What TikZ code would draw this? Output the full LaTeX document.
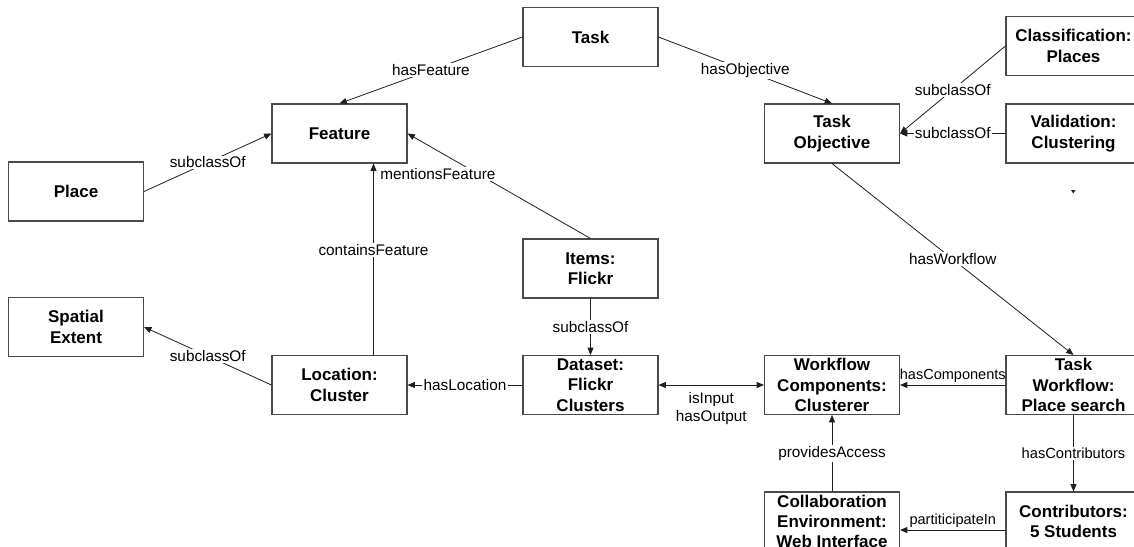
\documentclass[tikz,border=0pt]{standalone}
\usepackage{fontspec}
\setmainfont{Liberation Sans}
\usetikzlibrary{arrows.meta}
\definecolor{boxgray}{HTML}{4A4A4A}
\definecolor{linegray}{HTML}{1E1E1E}
\begin{document}
\begin{tikzpicture}[x=0.75pt,y=-0.75pt,
  box/.style={draw=boxgray, line width=0.8pt, minimum width=101.25pt, minimum height=44.25pt,
    inner sep=0pt, align=center, font=\bfseries\fontsize{12.75}{15.3}\selectfont},
  lbl/.style={fill=white, inner sep=1pt, font=\fontsize{11.5}{13.5}\selectfont},
  lblplain/.style={inner sep=1pt, align=center, font=\fontsize{11.5}{13.5}\selectfont},
  small/.style={font=\fontsize{10.9}{13}\selectfont},
  rel/.style={line width=0.6pt, draw=linegray, -{Triangle[length=5.5pt,width=4.5pt]}},
  birel/.style={line width=0.6pt, draw=linegray, {Triangle[length=5.5pt,width=4.5pt]}-{Triangle[length=5.5pt,width=4.5pt]}}
]
\useasboundingbox[fill=white] (0,0) rectangle (1134,546);

\node[box] (task) at (590.5,37) {Task};
\node[box] (feature) at (339.5,133.5) {Feature};
\node[box] (place) at (76,191.5) {Place};
\node[box] (tobj) at (832,133.5) {Task\\Objective};
\node[box] (class) at (1073.5,46) {Classification:\\Places};
\node[box] (valid) at (1073.5,133.5) {Validation:\\Clustering};
\node[box] (items) at (590.5,268.5) {Items:\\Flickr};
\node[box] (spatial) at (76,327) {Spatial\\Extent};
\node[box] (loc) at (339.5,385) {Location:\\Cluster};
\node[box] (data) at (590.5,385) {Dataset:\\Flickr\\Clusters};
\node[box] (wfc) at (832,385) {Workflow\\Components:\\Clusterer};
\node[box] (tw) at (1073.5,385) {Task\\Workflow:\\Place search};
\node[box] (collab) at (832,521.5) {Collaboration\\Environment:\\Web Interface};
\node[box] (contrib) at (1073.5,521.5) {Contributors:\\5 Students};

\draw[rel] (task.west) -- node[lbl]{hasFeature} (feature.north);
\draw[rel] (task.east) -- node[lbl]{hasObjective} (tobj.north);
\draw[rel] (place.east) -- node[lbl]{subclassOf} (feature.west);
\draw[rel] (items.north) -- node[lbl, pos=0.61, xshift=-30.75pt]{mentionsFeature} (feature.east);
\draw[rel] ([xshift=25.5pt]loc.north) -- node[lbl, pos=0.55]{containsFeature} ([xshift=25.5pt]feature.south);
\draw[rel] (loc.west) -- node[lbl]{subclassOf} (spatial.east);
\draw[rel] (data.west) -- node[lbl]{hasLocation} (loc.east);
\draw[rel] (items.south) -- node[lbl]{subclassOf} (data.north);
\draw[birel] (data.east) -- node[lblplain, below=4.5pt]{isInput\\hasOutput} (wfc.west);
\draw[rel] (tw.west) -- node[lblplain, small, above=0.5pt]{hasComponents} (wfc.east);
\draw[rel] (tobj.south) -- node[lbl]{hasWorkflow} (tw.north);
\draw[rel] (class.west) -- node[lbl]{subclassOf} (tobj.east);
\draw[rel] (valid.west) -- node[lbl]{subclassOf} (tobj.east);
\draw[rel] (collab.north) -- node[lbl]{providesAccess} (wfc.south);
\draw[rel] (tw.south) -- node[lbl, font=\fontsize{11}{13}\selectfont]{hasContributors} (contrib.north);
\draw[rel] ([yshift=-6.4pt]contrib.west) -- node[lblplain, small, above=0.5pt]{partiticipateIn} ([yshift=-6.4pt]collab.east);

\fill[linegray] (1071,190) -- (1075.5,190) -- (1073.2,193.5) -- cycle;
\end{tikzpicture}
\end{document}
